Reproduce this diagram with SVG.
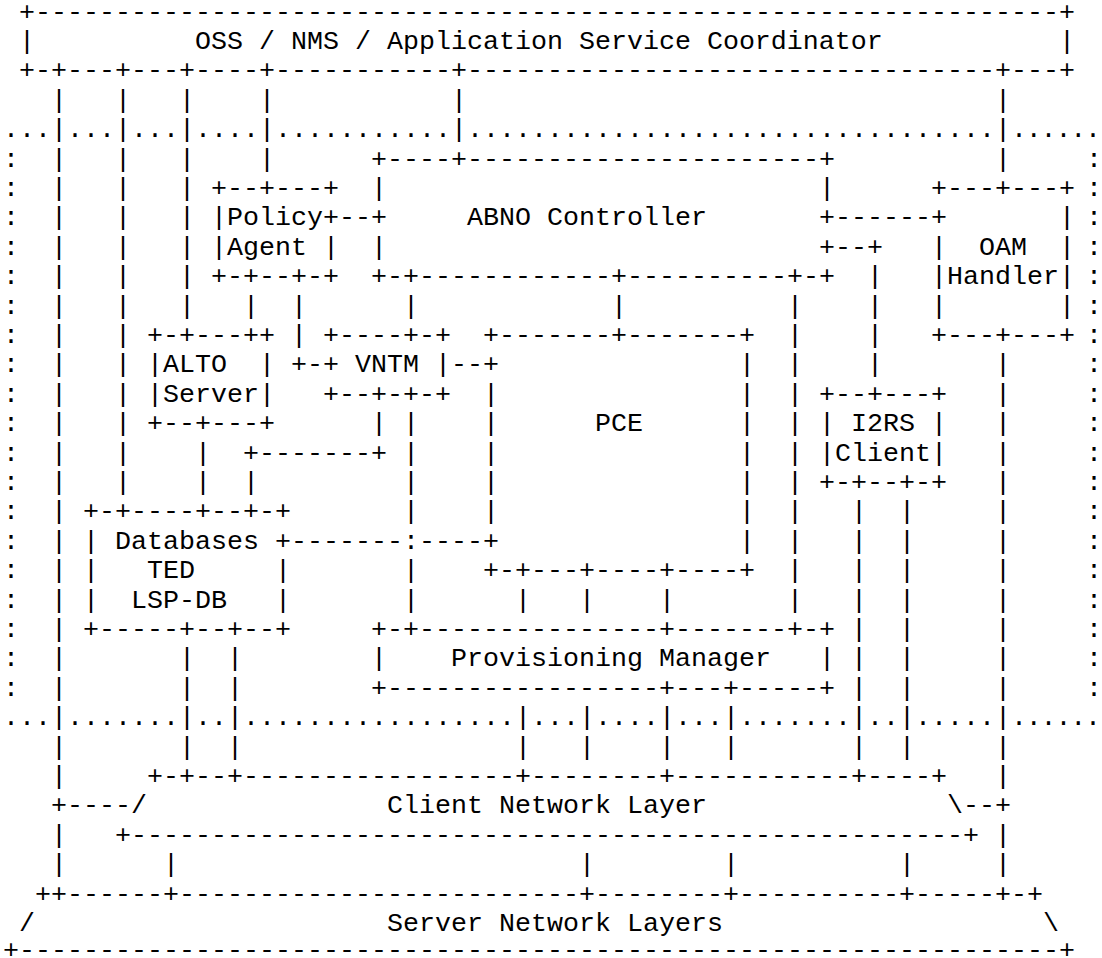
<svg xmlns="http://www.w3.org/2000/svg" width="1102" height="958" viewBox="0 0 1102 958">
<style>
text { font-family: "Liberation Mono", "Courier New", monospace; font-size: 26.667px; fill: #000000; }
</style>
<rect x="0" y="0" width="1102" height="958" fill="#ffffff"/>

<g id="abno-domain">
<text x="3" y="137.1">...</text>
<text x="67" y="137.1">...</text>
<text x="131" y="137.1">...</text>
<text x="195" y="137.1">....</text>
<text x="275" y="137.1" textLength="176">...........</text>
<text x="467" y="137.1" textLength="528">.................................</text>
<text x="1011" y="137.1" textLength="90">......</text>
<text x="3" y="725.1">...</text>
<text x="67" y="725.1">.......</text>
<text x="195" y="725.1">..</text>
<text x="243" y="725.1" textLength="272">.................</text>
<text x="531" y="725.1">...</text>
<text x="595" y="725.1">....</text>
<text x="675" y="725.1">...</text>
<text x="739" y="725.1">.......</text>
<text x="867" y="725.1">..</text>
<text x="915" y="725.1">.....</text>
<text x="1011" y="725.1" textLength="90">......</text>
<text x="3 3 3 3 3 3 3 3 3 3 3 3 3 3 3 3 3 3 3" y="166.5 195.9 225.3 254.7 284.1 313.5 342.9 372.3 401.7 431.1 460.5 489.9 519.3 548.7 578.1 607.5 636.9 666.3 695.7">:::::::::::::::::::</text>
<text x="1086 1086 1086 1086 1086 1086 1086 1086 1086 1086 1086 1086 1086 1086 1086 1086 1086 1086 1086" y="166.5 195.9 225.3 254.7 284.1 313.5 342.9 372.3 401.7 431.1 460.5 489.9 519.3 548.7 578.1 607.5 636.9 666.3 695.7">:::::::::::::::::::</text>
</g>

<g id="oss">
<text x="19" y="19.5" textLength="1056">+----------------------------------------------------------------+</text>
<text x="19" y="48.9">|</text>
<text x="195" y="48.9">OSS / NMS / Application Service Coordinator</text>
<text x="1059" y="48.9">|</text>
<text x="19" y="78.3" textLength="1056">+-+---+---+----+-----------+---------------------------------+---+</text>
</g>

<g id="policy-agent">
<text x="211" y="195.9">+--+---+</text>
<text x="211" y="225.3">|Policy+</text>
<text x="211" y="254.7">|Agent |</text>
<text x="211" y="284.1">+-+--+-+</text>
</g>

<g id="abno-controller">
<text x="371" y="166.5" textLength="464">+----+----------------------+</text>
<text x="371" y="195.9">|</text>
<text x="819" y="195.9">|</text>
<text x="371" y="225.3">+</text>
<text x="467" y="225.3">ABNO Controller</text>
<text x="819" y="225.3">+</text>
<text x="371" y="254.7">|</text>
<text x="819" y="254.7">+</text>
<text x="371" y="284.1" textLength="464">+-+------------+----------+-+</text>
</g>

<g id="oam-handler">
<text x="931" y="195.9">+---+---+</text>
<text x="931" y="225.3">+</text>
<text x="1059" y="225.3">|</text>
<text x="931" y="254.7">|</text>
<text x="979" y="254.7">OAM</text>
<text x="1059" y="254.7">|</text>
<text x="931" y="284.1">|Handler|</text>
<text x="931" y="313.5">|</text>
<text x="1059" y="313.5">|</text>
<text x="931" y="342.9">+---+---+</text>
</g>

<g id="alto-server">
<text x="147" y="342.9">+-+---++</text>
<text x="147" y="372.3">|ALTO</text>
<text x="259" y="372.3">|</text>
<text x="147" y="401.7">|Server|</text>
<text x="147" y="431.1">+--+---+</text>
</g>

<g id="vntm">
<text x="323" y="342.9">+----+-+</text>
<text x="323" y="372.3">+</text>
<text x="355" y="372.3">VNTM</text>
<text x="435" y="372.3">|</text>
<text x="323" y="401.7">+--+-+-+</text>
</g>

<g id="pce">
<text x="483" y="342.9" textLength="272">+-------+-------+</text>
<text x="483 483 483 483 483 483 483" y="372.3 401.7 431.1 460.5 489.9 519.3 548.7">+|||||+</text>
<text x="739 739 739 739 739 739 739" y="372.3 401.7 431.1 460.5 489.9 519.3 548.7">|||||||</text>
<text x="595" y="431.1">PCE</text>
<text x="483" y="578.1" textLength="272">+-+---+----+----+</text>
</g>

<g id="i2rs-client">
<text x="819" y="401.7">+--+---+</text>
<text x="819" y="431.1">| I2RS |</text>
<text x="819" y="460.5">|Client|</text>
<text x="819" y="489.9">+-+--+-+</text>
</g>

<g id="databases">
<text x="83" y="519.3">+-+----+--+-+</text>
<text x="83" y="548.7">|</text>
<text x="115" y="548.7">Databases</text>
<text x="275" y="548.7">+</text>
<text x="83" y="578.1">|</text>
<text x="147" y="578.1">TED</text>
<text x="275" y="578.1">|</text>
<text x="83" y="607.5">|</text>
<text x="131" y="607.5">LSP-DB</text>
<text x="275" y="607.5">|</text>
<text x="83" y="636.9">+-----+--+--+</text>
</g>

<g id="provisioning-manager">
<text x="371" y="636.9" textLength="464">+-+---------------+-------+-+</text>
<text x="371" y="666.3">|</text>
<text x="451" y="666.3">Provisioning Manager</text>
<text x="819" y="666.3">|</text>
<text x="371" y="695.7" textLength="464">+-----------------+---+-----+</text>
</g>

<g id="client-network-layer">
<text x="147" y="783.9" textLength="800">+-+--+-----------------+--------+-----------+----+</text>
<text x="131" y="813.3">/</text>
<text x="387" y="813.3">Client Network Layer</text>
<text x="947" y="813.3">\</text>
<text x="115" y="842.7" textLength="864">+----------------------------------------------------+</text>
</g>

<g id="server-network-layers">
<text x="35" y="901.5" textLength="1008">++------+-------------------------+--------+----------+-----+-+</text>
<text x="19" y="930.9">/</text>
<text x="387" y="930.9">Server Network Layers</text>
<text x="1043" y="930.9">\</text>
<text x="3" y="958" textLength="1072">+-----------------------------------------------------------------+</text>
</g>

<g id="connectors">
<text x="51 51 51 51 51 51 51 51 51 51 51 51 51 51 51 51 51 51 51 51 51 51 51 51 51 51" y="107.7 137.1 166.5 195.9 225.3 254.7 284.1 313.5 342.9 372.3 401.7 431.1 460.5 489.9 519.3 548.7 578.1 607.5 636.9 666.3 695.7 725.1 754.5 783.9 842.7 872.1">||||||||||||||||||||||||||</text>
<text x="51" y="813.3">+----</text>
<text x="115 115 115 115 115 115 115 115 115 115 115 115 115 115" y="107.7 137.1 166.5 195.9 225.3 254.7 284.1 313.5 342.9 372.3 401.7 431.1 460.5 489.9">||||||||||||||</text>
<text x="179 179 179 179 179 179 179 179" y="107.7 137.1 166.5 195.9 225.3 254.7 284.1 313.5">||||||||</text>
<text x="259 259 259" y="107.7 137.1 166.5">|||</text>
<text x="451 451" y="107.7 137.1">||</text>
<text x="995 995 995" y="107.7 137.1 166.5">|||</text>
<text x="339" y="225.3">--</text>
<text x="835" y="225.3">------</text>
<text x="835" y="254.7">--+</text>
<text x="867 867 867 867" y="284.1 313.5 342.9 372.3">||||</text>
<text x="243" y="313.5">|</text>
<text x="291 291" y="313.5 342.9">||</text>
<text x="291" y="372.3">+-</text>
<text x="403" y="313.5">|</text>
<text x="611" y="313.5">|</text>
<text x="787 787 787 787 787 787 787 787 787 787 787" y="313.5 342.9 372.3 401.7 431.1 460.5 489.9 519.3 548.7 578.1 607.5">|||||||||||</text>
<text x="451" y="372.3">--</text>
<text x="995 995 995 995 995 995 995 995 995 995 995 995 995 995 995 995 995" y="372.3 401.7 431.1 460.5 489.9 519.3 548.7 578.1 607.5 636.9 666.3 695.7 725.1 754.5 783.9 842.7 872.1">|||||||||||||||||</text>
<text x="963" y="813.3">--+</text>
<text x="371" y="431.1">|</text>
<text x="243" y="460.5">+-------+</text>
<text x="243" y="489.9">|</text>
<text x="403 403 403 403 403 403" y="431.1 460.5 489.9 519.3 578.1 607.5">||||||</text>
<text x="195 195" y="460.5 489.9">||</text>
<text x="291" y="548.7" textLength="192">-------:----</text>
<text x="851 851 851 851 851 851 851 851 851" y="519.3 548.7 578.1 607.5 636.9 666.3 695.7 725.1 754.5">|||||||||</text>
<text x="899 899 899 899 899 899 899 899 899 899" y="519.3 548.7 578.1 607.5 636.9 666.3 695.7 725.1 754.5 872.1">||||||||||</text>
<text x="515 515 515" y="607.5 725.1 754.5">|||</text>
<text x="579 579 579 579" y="607.5 725.1 754.5 872.1">||||</text>
<text x="659 659 659" y="607.5 725.1 754.5">|||</text>
<text x="723 723 723" y="725.1 754.5 872.1">|||</text>
<text x="179 179 179 179" y="666.3 695.7 725.1 754.5">||||</text>
<text x="227 227 227 227" y="666.3 695.7 725.1 754.5">||||</text>
<text x="163" y="872.1">|</text>
</g>
</svg>
